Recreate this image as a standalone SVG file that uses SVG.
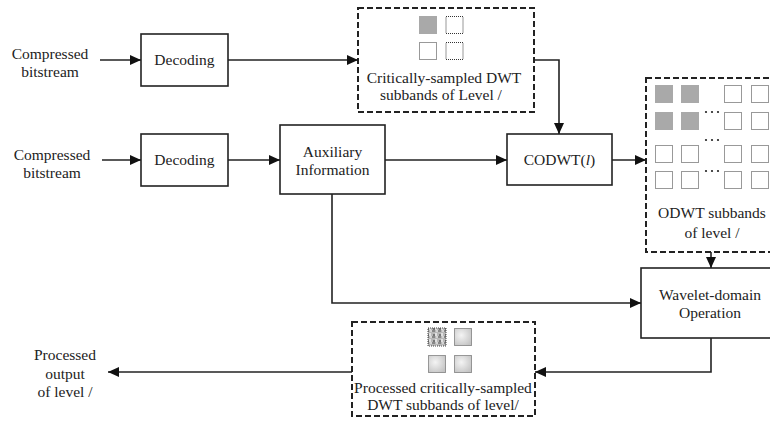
<svg xmlns="http://www.w3.org/2000/svg" width="770" height="426" viewBox="0 0 770 426">
<style>
text{font-family:"Liberation Serif","Times New Roman",serif;font-size:15.5px;fill:#222;text-anchor:middle}
.box{fill:#fff;stroke:#222;stroke-width:1.6}
.dbox{fill:#fff;stroke:#222;stroke-width:2;stroke-dasharray:6 3}
.sq{fill:#fff;stroke:#333;stroke-width:1;stroke-dasharray:1 1}
.fsq{fill:#a9a9a9}
.ln{fill:none;stroke:#222;stroke-width:1.6}
.dot{fill:#222}
</style>
<defs>
<marker id="ar" markerUnits="userSpaceOnUse" markerWidth="12" markerHeight="10" refX="11" refY="5" orient="auto">
<path d="M0,0 L11,5 L0,10 z" fill="#111"/>
</marker>
<radialGradient id="lg" cx="0.4" cy="0.4" r="0.7">
<stop offset="0" stop-color="#f4f4f4"/>
<stop offset="1" stop-color="#c4c4c4"/>
</radialGradient>
<pattern id="tex" width="6" height="6" patternUnits="userSpaceOnUse">
<rect width="6" height="6" fill="#b8b8b8"/>
<rect x="0" y="0" width="3" height="2" fill="#888"/>
<rect x="3" y="3" width="2" height="3" fill="#e0e0e0"/>
<rect x="1" y="4" width="2" height="2" fill="#777"/>
<rect x="4" y="0" width="2" height="2" fill="#d4d4d4"/>
</pattern>
</defs>

<g id="labels">
<text x="50" y="59">Compressed</text>
<text x="50" y="77">bitstream</text>
<text x="52" y="160">Compressed</text>
<text x="52" y="178">bitstream</text>
<text x="65" y="360">Processed</text>
<text x="65" y="379">output</text>
<text x="65" y="397">of level /</text>
</g>

<g id="decoding1">
<rect class="box" x="141" y="34" width="87" height="52"/>
<text x="184.5" y="65">Decoding</text>
</g>

<g id="decoding2">
<rect class="box" x="141" y="134" width="87" height="52"/>
<text x="184.5" y="165">Decoding</text>
</g>

<g id="dwt-subbands">
<rect class="dbox" x="358" y="8" width="176" height="104"/>
<rect class="fsq" x="419" y="16" width="18" height="18"/>
<rect class="sq" x="446" y="16.5" width="17" height="17"/>
<rect class="sq" x="419.5" y="42.5" width="17" height="17"/>
<rect class="sq" x="446" y="42.5" width="17" height="17"/>
<text x="444" y="83">Critically-sampled DWT</text>
<text x="441" y="100">subbands of Level /</text>
</g>

<g id="auxiliary">
<rect class="box" x="280" y="125" width="105" height="69"/>
<text x="332.5" y="157">Auxiliary</text>
<text x="332.5" y="175">Information</text>
</g>

<g id="codwt">
<rect class="box" x="507" y="134" width="105" height="51"/>
<text x="559.5" y="165">CODWT(<tspan font-style="italic">l</tspan>)</text>
</g>

<g id="odwt-subbands">
<rect class="dbox" x="646" y="78" width="130" height="174"/>
<rect class="fsq" x="655" y="85" width="18" height="18"/>
<rect class="fsq" x="681" y="85" width="18" height="18"/>
<rect class="sq" x="724.5" y="85.5" width="17" height="17"/>
<rect class="sq" x="751.5" y="85.5" width="17" height="17"/>
<rect class="fsq" x="655" y="112" width="18" height="18"/>
<rect class="fsq" x="681" y="112" width="18" height="18"/>
<rect class="sq" x="724.5" y="112.5" width="17" height="17"/>
<rect class="sq" x="751.5" y="112.5" width="17" height="17"/>
<rect class="sq" x="655.5" y="145.5" width="17" height="17"/>
<rect class="sq" x="681.5" y="145.5" width="17" height="17"/>
<rect class="sq" x="724.5" y="145.5" width="17" height="17"/>
<rect class="sq" x="751.5" y="145.5" width="17" height="17"/>
<rect class="sq" x="655.5" y="171.5" width="17" height="17"/>
<rect class="sq" x="681.5" y="171.5" width="17" height="17"/>
<rect class="sq" x="724.5" y="171.5" width="17" height="17"/>
<rect class="sq" x="751.5" y="171.5" width="17" height="17"/>
<circle class="dot" cx="706" cy="112" r="1.1"/><circle class="dot" cx="712" cy="112" r="1.1"/><circle class="dot" cx="718" cy="112" r="1.1"/>
<circle class="dot" cx="706" cy="140" r="1.1"/><circle class="dot" cx="712" cy="140" r="1.1"/><circle class="dot" cx="718" cy="140" r="1.1"/>
<circle class="dot" cx="706" cy="171" r="1.1"/><circle class="dot" cx="712" cy="171" r="1.1"/><circle class="dot" cx="718" cy="171" r="1.1"/>
<text x="712" y="218">ODWT subbands</text>
<text x="712" y="238">of level /</text>
</g>

<g id="wavelet-op">
<rect class="box" x="641" y="268" width="135" height="70"/>
<text x="710" y="300">Wavelet-domain</text>
<text x="710" y="318">Operation</text>
</g>

<g id="processed-subbands">
<rect class="dbox" x="352" y="322" width="183" height="94"/>
<rect x="428" y="328" width="18" height="18" fill="url(#tex)" stroke="#444" stroke-width="1" stroke-dasharray="1 1"/>
<rect x="454.5" y="328.5" width="17" height="17" fill="url(#lg)" stroke="#444" stroke-width="1" stroke-dasharray="1 1"/>
<rect x="428.5" y="355.5" width="17" height="17" fill="url(#lg)" stroke="#444" stroke-width="1" stroke-dasharray="1 1"/>
<rect x="454.5" y="355.5" width="17" height="17" fill="url(#lg)" stroke="#444" stroke-width="1" stroke-dasharray="1 1"/>
<text x="443" y="393" font-size="15">Processed critically-sampled</text>
<text x="443" y="410" font-size="15">DWT subbands of level/</text>
</g>

<g id="connectors">
<path class="ln" d="M100,60 H141" marker-end="url(#ar)"/>
<path class="ln" d="M228,60 H358" marker-end="url(#ar)"/>
<path class="ln" d="M102,160 H141" marker-end="url(#ar)"/>
<path class="ln" d="M228,160 H280" marker-end="url(#ar)"/>
<path class="ln" d="M385,160 H507" marker-end="url(#ar)"/>
<path class="ln" d="M534,60 H559 V134" marker-end="url(#ar)"/>
<path class="ln" d="M612,160 H646" marker-end="url(#ar)"/>
<path class="ln" d="M711,252 V268" marker-end="url(#ar)"/>
<path class="ln" d="M332,194 V303 H641" marker-end="url(#ar)"/>
<path class="ln" d="M711,338 V372 H535" marker-end="url(#ar)"/>
<path class="ln" d="M352,372 H108" marker-end="url(#ar)"/>
</g>
</svg>
